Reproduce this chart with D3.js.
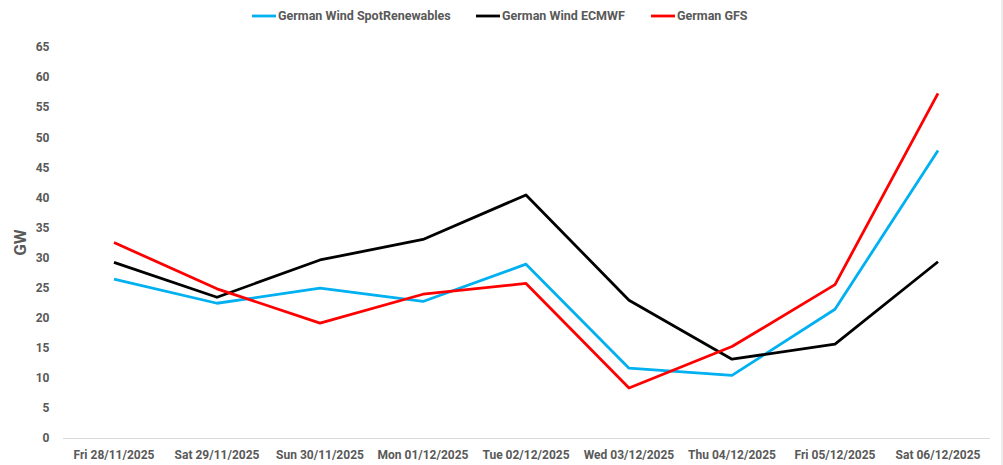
<!DOCTYPE html>
<html>
<head>
<meta charset="utf-8">
<script src="https://cdn.jsdelivr.net/npm/d3@7"></script>
<style>
  body { margin: 0; background: #fff; }
  #chartContainer { width: 1003px; height: 465px; }
  text { font-family: "Roboto", "Liberation Sans", sans-serif; font-weight: bold; fill: #595959; }
</style>
</head>
<body>
<div id="chartContainer"></div>
<script>
// Chart data
const categories = ["Fri 28/11/2025", "Sat 29/11/2025", "Sun 30/11/2025", "Mon 01/12/2025",
  "Tue 02/12/2025", "Wed 03/12/2025", "Thu 04/12/2025", "Fri 05/12/2025", "Sat 06/12/2025"];
const spotRenewables = [26.4, 22.4, 24.9, 22.7, 28.9, 11.6, 10.4, 21.4, 47.8];
const ecmwf = [29.2, 23.4, 29.6, 33.0, 40.4, 22.9, 13.1, 15.6, 29.3];
const gfs = [32.5, 24.8, 19.1, 23.9, 25.7, 8.3, 15.2, 25.5, 57.3];
const yTicks = [0, 5, 10, 15, 20, 25, 30, 35, 40, 45, 50, 55, 60, 65];

const series = [
  {name: "German Wind SpotRenewables", values: spotRenewables, color: "#00b0f0"},
  {name: "German Wind ECMWF", values: ecmwf, color: "#000000"},
  {name: "German GFS", values: gfs, color: "#ff0000"}
];

const width = 1003;
const height = 465;
const marginTop = 47;
const marginRight = 13.5;
const marginBottom = 27;
const marginLeft = 62.5;

const x = d3.scaleBand(categories, [marginLeft, width - marginRight]);
const y = d3.scaleLinear([0, 65], [height - marginBottom, marginTop]);

const svg = d3.create("svg")
  .attr("width", width)
  .attr("height", height)
  .attr("viewBox", [0, 0, width, height]);

// x-axis
svg.append("g")
  .attr("transform", `translate(0,${height - marginBottom})`)
  .call(d3.axisBottom(x).tickSize(0).tickPadding(12))
  .call(g => g.select(".domain").attr("stroke", "#d9d9d9"))
  .call(g => g.selectAll("text").attr("font-size", 12));

// y-axis
svg.append("g")
  .attr("transform", `translate(${marginLeft - 13},0)`)
  .call(d3.axisLeft(y).tickValues(yTicks).tickSize(0).tickPadding(0))
  .call(g => g.select(".domain").remove())
  .call(g => g.selectAll("text").attr("font-size", 12));

// y-axis label
svg.append("text")
  .attr("transform", `translate(26,${(y(0) + y(65)) / 2}) rotate(-90)`)
  .attr("text-anchor", "middle")
  .attr("font-size", 17)
  .text("GW");

// lines
const line = d3.line()
  .x((d, i) => x(categories[i]) + x.bandwidth() / 2)
  .y(d => y(d));

svg.append("g")
  .selectAll("path")
  .data(series)
  .join("path")
  .attr("fill", "none")
  .attr("stroke", d => d.color)
  .attr("stroke-width", 2.8)
  .attr("stroke-linejoin", "round")
  .attr("d", d => line(d.values));

// legend
const legendX = [252, 476, 651];
const legend = svg.append("g")
  .selectAll("g")
  .data(series)
  .join("g")
  .attr("transform", (d, i) => `translate(${legendX[i]},16)`);

legend.append("line")
  .attr("x1", 0).attr("x2", 24)
  .attr("stroke", d => d.color)
  .attr("stroke-width", 2.8);

legend.append("text")
  .attr("x", 26)
  .attr("dy", "0.35em")
  .attr("font-size", 12.5)
  .text(d => d.name);

// right border
svg.append("line")
  .attr("x1", width - 1).attr("x2", width - 1)
  .attr("y1", 0).attr("y2", height)
  .attr("stroke", "#d9d9d9");

document.getElementById("chartContainer").append(svg.node());
</script>
</body>
</html>
